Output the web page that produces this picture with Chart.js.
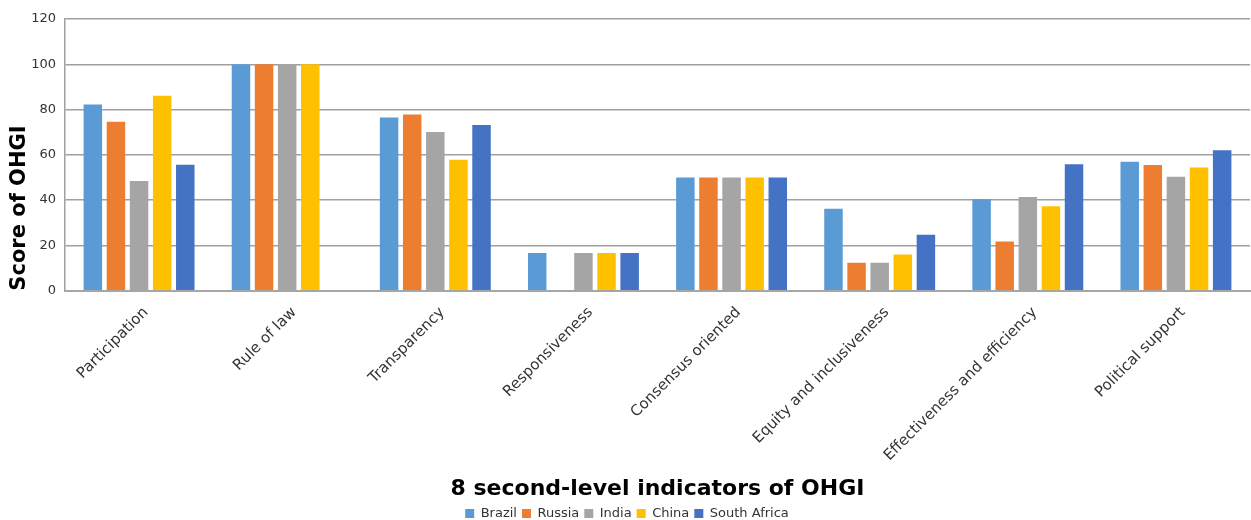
<!DOCTYPE html>
<html>
<head>
<meta charset="utf-8">
<script src="https://cdn.jsdelivr.net/npm/chart.js@4"></script>
<style>
html,body{margin:0;padding:0;background:#fff;}
#wrap{width:1251px;height:520px;}
</style>
</head>
<body>
<div id="wrap"><canvas id="c" width="1251" height="520"></canvas></div>
<script>
const categories = ["Participation","Rule of law","Transparency","Responsiveness","Consensus oriented","Equity and inclusiveness","Effectiveness and efficiency","Political support"];
const brazil = [82.2, 100, 76.5, 16.7, 50, 36.2, 40.4, 57.0];
const russia = [74.6, 100, 77.8, null, 50, 12.3, 21.7, 55.5];
const india = [48.5, 100, 70.1, 16.7, 50, 12.3, 41.4, 50.3];
const china = [86.1, 100, 57.8, 16.7, 50, 16.0, 37.3, 54.4];
const southAfrica = [55.6, null, 73.2, 16.7, 50, 24.7, 55.9, 62.0];
const seriesNames = ["Brazil","Russia","India","China","South Africa"];
const seriesColors = ["#5B9BD5","#ED7D31","#A5A5A5","#FFC000","#4472C4"];
const yTicks = [0,20,40,60,80,100,120];

const allSeries = [brazil, russia, india, china, southAfrica];
const FONT = "'DejaVu Sans', Verdana, sans-serif";

new Chart(document.getElementById('c'), {
  type: 'bar',
  data: {
    labels: categories,
    datasets: allSeries.map((d,i)=>({
      label: seriesNames[i],
      data: d,
      backgroundColor: seriesColors[i],
      borderWidth: 0,
      categoryPercentage: 0.78,
      barPercentage: 0.8
    }))
  },
  options: {
    responsive: false,
    animation: false,
    devicePixelRatio: 1,
    layout: { padding: { top: 19, right: 1, left: 4, bottom: -10 } },
    plugins: {
      legend: {
        position: 'bottom',
        labels: {
          boxWidth: 9, boxHeight: 9, padding: 5,
          color: '#333', font: { family: FONT, size: 13 }
        }
      },
      tooltip: { enabled: false }
    },
    scales: {
      x: {
        afterFit: (s)=>{ s.paddingLeft = 0; s.paddingRight = 0; },
        grid: { display: false, drawTicks: false },
        border: { color: '#a6a6a6', width: 2 },
        ticks: {
          minRotation: 45, maxRotation: 45, padding: 13, labelOffset: 7, autoSkip: false,
          color: '#333', font: { family: FONT, size: 15 }
        },
        title: {
          display: true, text: '8 second-level indicators of OHGI',
          color: '#000', font: { family: FONT, size: 22, weight: 'bold' },
          padding: { top: -2, bottom: 0 }
        }
      },
      y: {
        min: 0, max: 120,
        afterBuildTicks: (s)=>{ s.ticks = yTicks.map(v=>({value:v})); },
        afterFit: (s)=>{ s.width = 61; },
        grid: { color: '#a0a0a0', lineWidth: 1.5, drawTicks: false },
        border: { color: '#a0a0a0', width: 1.5 },
        ticks: {
          padding: 9, color: '#333', font: { family: FONT, size: 13 }
        },
        title: {
          display: true, text: 'Score of OHGI', align: 'start',
          color: '#000', font: { family: FONT, size: 21, weight: 'bold' },
          padding: { top: 3, bottom: 0 }
        }
      }
    }
  }
});
</script>
</body>
</html>
